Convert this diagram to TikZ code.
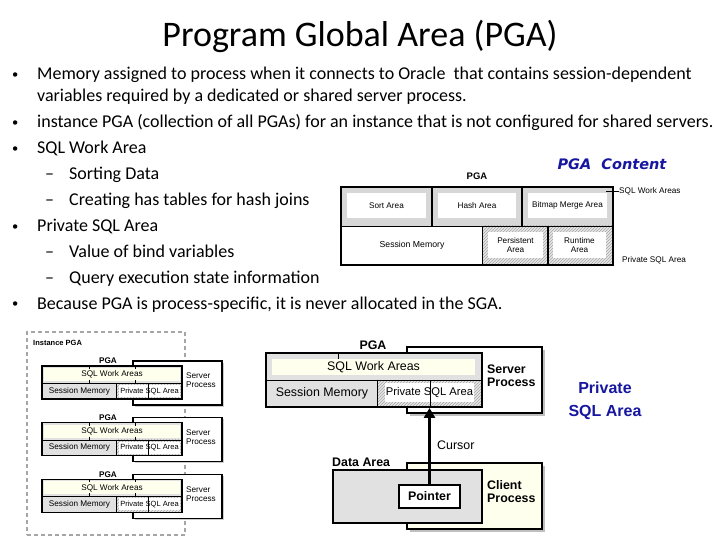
\documentclass[tikz,border=0pt]{standalone}
\usepackage{fontspec}
\setmainfont{Carlito}
\newfontfamily\dfont{Liberation Sans}
\newfontfamily\vfont{DejaVu Sans}
\usetikzlibrary{fit,patterns,arrows.meta,shadows}
\definecolor{ivoryc}{RGB}{255,255,238}
\definecolor{lgrayc}{RGB}{225,225,225}
\definecolor{hgrayc}{RGB}{215,215,215}
\definecolor{pgablue}{RGB}{22,22,160}
\tikzset{
  body/.style={anchor=base west, inner sep=0pt, font=\fontsize{18}{21}\selectfont},
  bul/.style={anchor=base west, inner sep=0pt, font=\fontsize{12.5}{13}\selectfont},
  area/.style={inner sep=0pt, fit={#1}},
  hatch/.style={preaction={fill=hgrayc!60}, pattern=north east lines, pattern color=gray!70},
  tiny/.style={inner sep=0pt, font=\dfont\fontsize{8.2}{9.2}\selectfont, align=center},
  tinyb/.style={inner sep=0pt, font=\dfont\bfseries\fontsize{8.2}{9.2}\selectfont, align=left},
  mid/.style={inner sep=0pt, font=\dfont\fontsize{12.4}{13}\selectfont, align=left},
  midb/.style={inner sep=0pt, font=\dfont\bfseries\fontsize{12.4}{13}\selectfont, align=left},
  frame/.style={draw=black, line width=1.4pt},
  thickframe/.style={draw=black, line width=1.9pt},
  shad/.style={drop shadow={shadow xshift=2.5pt, shadow yshift=-2.5pt, fill=black!25, opacity=1}},
}
\begin{document}
\begin{tikzpicture}[x=1pt,y=-1pt]
\useasboundingbox[fill=white] (0,0) rectangle (720,540);

% ---------- title and bullet text ----------
\node[anchor=base, inner sep=0pt, font=\fontsize{36}{40}\selectfont] (title) at (360,47) {Program Global Area (PGA)};

\node[bul] (bu1) at (12,78.5) {\textbullet};
\node[body] (t1) at (37,80) {Memory assigned to process when it connects to Oracle\ \ that contains session-dependent};
\node[body] (t1b) at (37,102) {variables required by a dedicated or shared server process.};
\node[bul] (bu2) at (12,126.5) {\textbullet};
\node[body] (t2) at (37,128) {instance PGA (collection of all PGAs) for an instance that is not configured for shared servers.};
\node[bul] (bu3) at (12,152.5) {\textbullet};
\node[body] (t3) at (37,154) {SQL Work Area};
\node[body] (da1) at (45,180) {–};
\node[body] (t31) at (69,180) {Sorting Data};
\node[body] (da2) at (45,206) {–};
\node[body] (t32) at (69,206) {Creating has tables for hash joins};
\node[bul] (bu4) at (12,230.5) {\textbullet};
\node[body] (t4) at (37,232) {Private SQL Area};
\node[body] (da3) at (45,258) {–};
\node[body] (t41) at (69,258) {Value of bind variables};
\node[body] (da4) at (45,283) {–};
\node[body] (t42) at (69,283) {Query execution state information};
\node[bul] (bu5) at (12,307.5) {\textbullet};
\node[body] (t5) at (37,309) {Because PGA is process-specific, it is never allocated in the SGA.};

% ---------- PGA content diagram ----------
\node[inner sep=0pt, text=pgablue, font=\vfont\bfseries\itshape\fontsize{14.5}{16}\selectfont] (pgacontent) at (612,164) {PGA\ \ Content};
\node[inner sep=0pt, font=\dfont\bfseries\fontsize{9.5}{10}\selectfont] (pgaTitleC) at (477,176) {PGA};

\node[area={(341,187)(613,226)}, fill=hgrayc] (swaC) {};
\node[area={(347,193)(426,218)}, fill=white] (sortIn) {};
\node[area={(438,193)(516,218)}, fill=white] (hashIn) {};
\node[area={(528,193)(607,218)}, fill=white] (bitIn) {};
\node[area={(341,226)(483,265)}, fill=white] (sessC) {};
\node[area={(483,226)(613,265)}, hatch] (privC) {};
\node[area={(488,232)(543,258)}, fill=white] (persIn) {};
\node[area={(553,232)(606,258)}, fill=white] (runIn) {};
\node[tiny] (tSort) at (sortIn) {Sort Area};
\node[tiny] (tHash) at (hashIn) {Hash Area};
\node[tiny] (tBit) at (bitIn) {Bitmap Merge Area};
\node[tiny, font=\dfont\fontsize{8.7}{9.2}\selectfont] (tSess) at (sessC) {Session Memory};
\node[tiny] (tPers) at (persIn) {Persistent\\Area};
\node[tiny] (tRun) at (runIn) {Runtime\\Area};
\draw[line width=1.2pt] (swaC.south west) -- (swaC.south east);
\draw[line width=1.2pt] (432,187) -- (432,226);
\draw[line width=1.2pt] (522,187) -- (522,226);
\draw[line width=1.2pt] (privC.north west) -- (privC.south west);
\draw[line width=1.2pt] (548,226) -- (548,265);
\node[area={(341,187)(613,265)}, frame] (pgaC) {};
\coordinate (swaLab) at (619,191);
\draw[line width=0.6pt] (606,191) -- (swaLab);
\node[tiny, anchor=west] (tSwaLab) at (swaLab) {SQL Work Areas};
\node[tiny, anchor=west] (tPrivLab) at (622,260) {Private SQL Area};

% ---------- Instance PGA diagram ----------
\node[area={(27,332)(185,535)}, draw=gray!70, line width=1.1pt, dash pattern=on 4pt off 3pt] (instPGA) {};
\node[tinyb, anchor=west, font=\dfont\bfseries\fontsize{7.5}{8}\selectfont] (tInst) at (33,343) {Instance PGA};
\foreach \k/\dy in {1/0,2/56.7,3/113.4}{
  \node[area={(133,{361+\dy})(222,{405+\dy})}, fill=white, draw=black, line width=1.3pt, drop shadow={shadow xshift=1.5pt, shadow yshift=-1.5pt, fill=black!20, opacity=1}] (srvL\k) {};
  \node[tiny, anchor=west, align=left] (tSrvL\k) at (186,{380.5+\dy}) {Server\\Process};
  \node[tinyb] (tPgaL\k) at (108,{361+\dy}) {PGA};
  \node[area={(42,{366+\dy})(182,{383+\dy})}, fill=lgrayc] (swaL\k) {};
  \node[area={(44,{368+\dy})(180,{381+\dy})}, fill=ivoryc] (swaLi\k) {};
  \node[area={(42,{383+\dy})(117,{399+\dy})}, fill=lgrayc] (sessL\k) {};
  \node[area={(117,{383+\dy})(182,{399+\dy})}, hatch] (privL\k) {};
  \node[area={(119,{385+\dy})(180,{397+\dy})}, fill=white] (privLi\k) {};
  \draw[line width=0.8pt] (89,{366+\dy}) -- (89,{369+\dy}) (89,{380+\dy}) -- (89,{383+\dy});
  \draw[line width=0.8pt] (135,{366+\dy}) -- (135,{369+\dy}) (135,{380+\dy}) -- (135,{383+\dy});
  \draw[line width=0.8pt] (148,{383+\dy}) -- (148,{399+\dy});
  \node[tiny] (tSwaL\k) at (swaLi\k) {SQL Work Areas};
  \node[tiny] (tSessL\k) at (sessL\k) {Session Memory};
  \node[tiny, font=\dfont\fontsize{7.5}{9}\selectfont] (tPrivL\k) at (privLi\k) {Private SQL Area};
  \draw[line width=0.7pt] (swaL\k.south west) -- (swaL\k.south east);
  \draw[line width=0.7pt] (privL\k.north west) -- (privL\k.south west);
  \node[area={(42,{366+\dy})(182,{399+\dy})}, draw=black, line width=1.1pt] (pgaL\k) {};
}

% ---------- Cursor diagram ----------
\node[midb] (tPgaB) at (373,345) {PGA};
\node[area={(407,347)(542,413)}, fill=white, thickframe, shad] (srvB) {};
\node[midb, anchor=west] (tSrvB) at (487,375.5) {Server\\Process};
\node[area={(266,353)(482,380)}, fill=lgrayc] (swaB) {};
\node[area={(272,359)(475,375)}, fill=ivoryc] (swaBi) {};
\node[area={(266,380)(378,407)}, fill=lgrayc] (sessB) {};
\node[area={(378,380)(482,407)}, hatch] (privB) {};
\node[area={(385,383)(474,402)}, fill=white] (privBi) {};
\draw[line width=0.9pt] (338,353) -- (338,359);
\node[mid] (tSwaB) at (swaBi) {SQL Work Areas};
\node[mid] (tSessB) at (sessB) {Session Memory};
\node[mid, font=\dfont\fontsize{11.2}{13}\selectfont] (tPrivB) at (privBi) {Private SQL Area};
\draw[line width=0.9pt] (swaB.south west) -- (swaB.south east);
\draw[line width=0.9pt] (privB.north west) -- (privB.south west);
\draw[line width=0.9pt] (430,380) -- (430,407);
\node[area={(266,353)(482,407)}, thickframe] (pgaB) {};

\node[area={(407,463)(542,529)}, fill=ivoryc, draw=black, line width=1.5pt, shad] (cliB) {};
\node[midb, anchor=west] (tCliB) at (487,491.5) {Client\\Process};
\node[midb, anchor=west] (tDataB) at (332,462) {Data Area};
\node[area={(333,470)(482,523)}, fill=lgrayc, thickframe] (dataB) {};
\node[area={(399,485)(460,508)}, fill=white, thickframe] (ptrB) {};
\node[midb] (tPtr) at (ptrB) {Pointer};
\draw[line width=3.2pt, -{Triangle[length=10pt,width=11pt]}] (ptrB.north) -- (ptrB.north |- pgaB.south);
\node[mid, anchor=west] (tCursor) at (437,445) {Cursor};

% ---------- blue label ----------
\node[inner sep=0pt, align=center, text=pgablue, font=\dfont\bfseries\fontsize{16}{23}\selectfont] (privBlue) at (605,400.5) {Private\\SQL Area};
\end{tikzpicture}
\end{document}
